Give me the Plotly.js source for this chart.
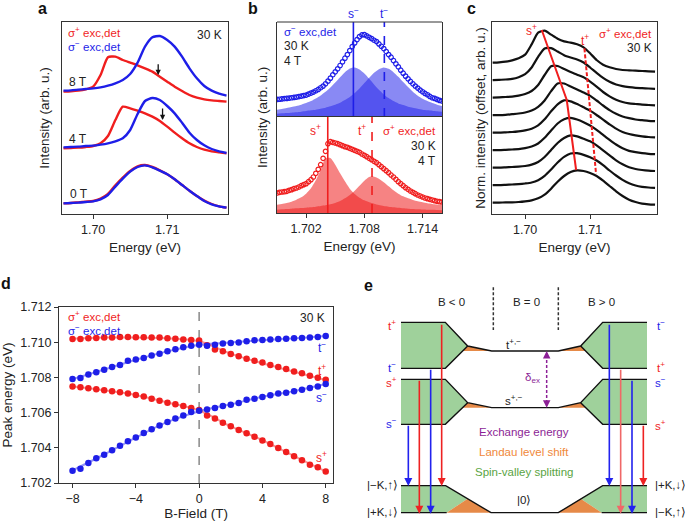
<!DOCTYPE html>
<html><head><meta charset="utf-8">
<script src="https://cdn.plot.ly/plotly-3.0.1.min.js"></script>
<style>html,body{margin:0;padding:0;background:#fff}</style>
</head><body><div id="chart" style="width:685px;height:526px"></div>
<script>
// ---------------- Panel a data ----------------
const energyA = [1.696,1.697,1.698,1.699,1.700,1.701,1.702,1.703,1.704,1.705,1.706,1.707,1.708,1.709,1.710,1.711,1.712,1.713,1.714,1.715,1.716,1.717,1.718];
const a0Tred  = [0.32,0.33,0.35,0.37,0.39,0.46,0.60,0.86,1.09,1.29,1.43,1.47,1.41,1.31,1.19,1.04,0.87,0.70,0.54,0.40,0.30,0.23,0.19];
const a0Tblue = [0.32,0.33,0.34,0.36,0.38,0.44,0.57,0.82,1.06,1.27,1.41,1.46,1.40,1.30,1.19,1.04,0.87,0.70,0.54,0.39,0.29,0.23,0.19];
const a4Tred  = [1.97,1.98,1.99,2.01,2.04,2.12,2.34,2.82,3.22,3.17,3.10,3.02,2.92,2.79,2.62,2.44,2.27,2.12,2.01,1.93,1.88,1.85,1.82];
const a4Tblue = [2.00,2.01,2.02,2.04,2.05,2.08,2.12,2.18,2.27,2.52,3.00,3.39,3.48,3.42,3.24,3.02,2.74,2.44,2.22,2.06,1.95,1.88,1.83];
const a8Tred  = [3.67,3.68,3.70,3.74,3.82,4.17,4.70,4.72,4.62,4.54,4.46,4.37,4.27,4.12,3.97,3.82,3.69,3.57,3.49,3.44,3.41,3.39,3.37];
const a8Tblue = [3.70,3.71,3.73,3.75,3.77,3.80,3.85,3.92,4.02,4.20,4.54,5.02,5.30,5.34,5.22,5.02,4.72,4.37,4.07,3.84,3.70,3.61,3.55];
const aArrowE = [1.70878, 1.70937];
const aArrowTail = [4.54, 3.21];
const aArrowHead = [4.17, 2.82];

// ---------------- Panel b data ----------------
const energyB = [1.699,1.69925,1.6995,1.69975,1.7,1.70025,1.7005,1.70075,1.701,1.70125,1.7015,1.70175,1.702,1.70225,1.7025,1.70275,1.703,1.70325,1.7035,1.70375,1.704,1.70425,1.7045,1.70475,1.705,1.70525,1.7055,1.70575,1.706,1.70625,1.7065,1.70675,1.707,1.70725,1.7075,1.70775,1.708,1.70825,1.7085,1.70875,1.709,1.70925,1.7095,1.70975,1.71,1.71025,1.7105,1.71075,1.711,1.71125,1.7115,1.71175,1.712,1.71225,1.7125,1.71275,1.713,1.71325,1.7135,1.71375,1.714,1.71425,1.7145,1.71475,1.715,1.71525,1.7155,1.71575,1.716];
const bMinusData = [0.53,0.535,0.545,0.555,0.56,0.57,0.58,0.59,0.60,0.615,0.63,0.645,0.66,0.69,0.72,0.75,0.79,0.83,0.88,0.93,1.00,1.08,1.17,1.27,1.36,1.45,1.55,1.66,1.77,1.88,2.00,2.12,2.23,2.33,2.42,2.47,2.48,2.44,2.40,2.36,2.31,2.27,2.20,2.13,2.06,1.97,1.88,1.80,1.70,1.60,1.51,1.41,1.32,1.23,1.15,1.07,1.00,0.93,0.87,0.81,0.76,0.71,0.67,0.62,0.58,0.56,0.53,0.50,0.48];
const bPlusData = [0.60,0.62,0.63,0.64,0.65,0.68,0.70,0.73,0.75,0.78,0.82,0.85,0.88,0.94,1.00,1.08,1.19,1.31,1.45,1.64,1.85,2.08,2.14,2.12,2.10,2.08,2.05,2.02,1.99,1.97,1.94,1.91,1.88,1.85,1.82,1.77,1.73,1.69,1.64,1.60,1.55,1.51,1.45,1.39,1.33,1.27,1.21,1.14,1.08,1.01,0.94,0.88,0.82,0.76,0.71,0.66,0.62,0.58,0.54,0.51,0.48,0.45,0.43,0.41,0.39,0.37,0.35,0.34,0.33];
const energyBfit = [1.699,1.6995,1.700,1.7005,1.701,1.7015,1.702,1.7025,1.703,1.7035,1.704,1.7045,1.705,1.7055,1.706,1.7065,1.707,1.7075,1.708,1.7085,1.709,1.7095,1.710,1.7105,1.711,1.7115,1.712,1.7125,1.713,1.7135,1.714,1.7145,1.715,1.7155,1.716];
const bSminus = [0.22,0.24,0.27,0.30,0.33,0.37,0.42,0.48,0.56,0.65,0.76,0.89,1.04,1.20,1.35,1.46,1.49,1.43,1.31,1.15,0.98,0.82,0.68,0.57,0.48,0.41,0.36,0.31,0.28,0.25,0.22,0.20,0.19,0.17,0.16];
const bTminus = [0.10,0.11,0.12,0.13,0.14,0.16,0.18,0.20,0.22,0.25,0.28,0.32,0.37,0.43,0.51,0.60,0.72,0.86,1.02,1.18,1.33,1.44,1.49,1.45,1.35,1.21,1.05,0.90,0.76,0.64,0.55,0.48,0.42,0.37,0.33];
const bSplus  = [0.25,0.27,0.30,0.34,0.40,0.47,0.58,0.74,0.98,1.29,1.64,1.65,1.45,1.19,0.95,0.73,0.57,0.46,0.38,0.32,0.28,0.24,0.21,0.19,0.17,0.155,0.14,0.13,0.12,0.11,0.105,0.10,0.095,0.09,0.085];
const bTplus  = [0.10,0.11,0.12,0.13,0.14,0.15,0.16,0.17,0.19,0.21,0.23,0.26,0.30,0.36,0.44,0.54,0.67,0.82,0.97,1.08,1.09,1.03,0.92,0.80,0.68,0.58,0.50,0.44,0.39,0.35,0.32,0.29,0.27,0.25,0.24];
const bPeakSminus = 1.70687, bPeakTminus = 1.71006, bPeakSplus = 1.70423, bPeakTplus = 1.70879;

// ---------------- Panel c data ----------------
const energyC = [1.695,1.696,1.697,1.698,1.699,1.700,1.701,1.702,1.703,1.704,1.705,1.706,1.707,1.708,1.709,1.710,1.711,1.712,1.713,1.714,1.715,1.716,1.717,1.718,1.719,1.720];
const fieldsC = ['8 T','6 T','4 T','2 T','0 T','−2 T','−4 T','−6 T','−8 T'];
const c8T  = [0,0.01,0.03,0.07,0.13,0.24,0.55,0.90,0.96,0.84,0.72,0.64,0.60,0.55,0.46,0.28,0.08,-0.06,-0.14,-0.19,-0.22,-0.23,-0.24,-0.25,-0.26,-0.27];
const c6T  = [0,0.01,0.02,0.04,0.09,0.18,0.38,0.70,0.95,0.96,0.86,0.75,0.68,0.62,0.53,0.38,0.22,0.07,-0.05,-0.13,-0.18,-0.21,-0.23,-0.24,-0.25,-0.26];
const c4T  = [0,0.01,0.02,0.03,0.06,0.11,0.20,0.38,0.68,0.94,0.95,0.86,0.77,0.69,0.61,0.48,0.33,0.17,0.04,-0.06,-0.13,-0.17,-0.19,-0.21,-0.22,-0.23];
const c2T  = [0,0,0.01,0.03,0.05,0.08,0.14,0.25,0.44,0.72,0.95,0.95,0.86,0.77,0.68,0.58,0.44,0.29,0.15,0.04,-0.04,-0.09,-0.13,-0.15,-0.17,-0.18];
const c0T  = [0,0,0.01,0.02,0.04,0.07,0.12,0.22,0.40,0.64,0.85,0.97,0.94,0.86,0.76,0.66,0.53,0.39,0.25,0.12,0.02,-0.04,-0.08,-0.11,-0.13,-0.14];
const cm2T = [0,0,0.01,0.02,0.03,0.06,0.11,0.20,0.37,0.59,0.80,0.93,0.97,0.92,0.84,0.74,0.61,0.46,0.31,0.17,0.06,-0.02,-0.06,-0.09,-0.11,-0.12];
const cm4T = [0,0,0.01,0.02,0.03,0.05,0.09,0.17,0.32,0.53,0.74,0.89,0.97,0.94,0.87,0.79,0.67,0.52,0.37,0.22,0.10,0.01,-0.04,-0.07,-0.09,-0.10];
const cm6T = [0,0,0.01,0.02,0.03,0.05,0.08,0.15,0.28,0.47,0.68,0.85,0.95,0.96,0.91,0.84,0.74,0.60,0.44,0.29,0.16,0.06,-0.01,-0.05,-0.07,-0.08];
const cm8T = [0,0,0.01,0.01,0.02,0.04,0.07,0.13,0.24,0.42,0.63,0.80,0.92,0.97,0.95,0.89,0.80,0.66,0.50,0.34,0.20,0.09,0.02,-0.03,-0.05,-0.06];
const cSplusE = [1.70256,1.70354,1.70451,1.70544,1.70641,1.70677,1.70713,1.70749,1.70785];
const cSplusY = [5.18,4.655,4.13,3.605,3.08,2.555,2.03,1.505,0.98];
const cTplusE = [1.70913,1.71092];
const cTplusY = [4.63,0.86];

// ---------------- Panel d data ----------------
const bField = [-8,-7.5,-7,-6.5,-6,-5.5,-5,-4.5,-4,-3.5,-3,-2.5,-2,-1.5,-1,-0.5,0,0.5,1,1.5,2,2.5,3,3.5,4,4.5,5,5.5,6,6.5,7,7.5,8];
const dTplus  = [1.71018,1.71018,1.71022,1.71024,1.71026,1.71026,1.71030,1.71030,1.71028,1.71028,1.71026,1.71026,1.71022,1.71020,1.71016,1.71012,1.71009,1.70982,1.70958,1.70948,1.70933,1.70920,1.70906,1.70895,1.70884,1.70870,1.70859,1.70848,1.70834,1.70823,1.70810,1.70798,1.70787];
const dTminus = [1.70791,1.70797,1.70816,1.70829,1.70844,1.70859,1.70870,1.70895,1.70901,1.70910,1.70925,1.70935,1.70948,1.70960,1.70971,1.70980,1.70986,1.70980,1.70986,1.70992,1.70995,1.70999,1.71005,1.71011,1.71013,1.71016,1.71018,1.71020,1.71022,1.71024,1.71026,1.71030,1.71035];
const dSplus  = [1.70749,1.70744,1.70738,1.70732,1.70727,1.70721,1.70715,1.70709,1.70700,1.70691,1.70679,1.70668,1.70656,1.70647,1.70637,1.70626,1.70615,1.70584,1.70566,1.70543,1.70522,1.70501,1.70482,1.70463,1.70442,1.70422,1.70399,1.70376,1.70352,1.70329,1.70304,1.70289,1.70266];
const dSminus = [1.70270,1.70281,1.70314,1.70340,1.70361,1.70386,1.70412,1.70437,1.70458,1.70484,1.70505,1.70526,1.70547,1.70567,1.70584,1.70603,1.70611,1.70617,1.70626,1.70637,1.70645,1.70655,1.70673,1.70679,1.70689,1.70698,1.70708,1.70713,1.70721,1.70730,1.70740,1.70749,1.70762];
const bFieldFit = [-8,-6,-4,-2,0,2,4,6,8];
const fitTplus  = [1.71020,1.71026,1.71027,1.71022,1.71005,1.70935,1.70880,1.70832,1.70785];
const fitTminus = [1.70790,1.70845,1.70900,1.70948,1.70985,1.70998,1.71012,1.71022,1.71035];
const fitSplus  = [1.70748,1.70727,1.70700,1.70657,1.70612,1.70522,1.70443,1.70353,1.70266];
const fitSminus = [1.70272,1.70362,1.70458,1.70547,1.70608,1.70647,1.70690,1.70722,1.70762];

// ---------------- Panel e schematic (diagram units) ----------------
const eGreen = [
  [[183,316,383,316,183],[142,142,213,280,280]],
  [[183,316,383,316,183],[313,313,383,448,448]],
  [[183,317,383,320,183],[632,632,671,713,713]],
  [[921,788,722,788,921],[142,142,213,280,280]],
  [[921,788,722,788,921],[313,313,383,448,448]],
  [[921,788,722,785,921],[632,632,671,713,713]]
];
const eOrange = [
  [[383,455,368],[213,228,228]], [[722,655,737],[213,228,228]],
  [[383,455,368],[383,398,398]], [[722,655,737],[383,398,398]],
  [[320,383,453],[713,671,713]], [[785,722,655],[713,671,713]]
];
const eLines = [
  [[183,316,383,455,655,722,788,921],[142,142,213,228,228,213,142,142]],
  [[183,316,383],[280,280,213]], [[722,788,921],[213,280,280]],
  [[183,316,383,455,655,722,788,921],[313,313,383,398,398,383,313,313]],
  [[183,316,383],[448,448,383]], [[722,788,921],[383,448,448]],
  [[183,317,453,655,788,921],[632,632,713,713,632,632]],
  [[183,320],[713,713]], [[785,921],[713,713]]
];
const eArrowX   = [205,238,272,305,808,842,876,910];
const eArrowTop = [448,313,280,145,145,280,313,448];
const eArrowBot = [633,716,716,633,633,716,716,633];
const eArrowCol = ['#2222ee','#ee2222','#2222ee','#ee2222','#2222ee','#f06868','#2222ee','#ee2222'];

// ---------------- Build ----------------
const RED = '#f01e1e', BLUE = '#1e1ee8', FONT = 'Liberation Sans, Arial, Helvetica, sans-serif';
const traces = [];
const line = (x, y, xa, ya, color, width, extra) => Object.assign({x, y, xaxis: xa, yaxis: ya, mode: 'lines', line: {color, width, shape: 'spline', smoothing: 0.6}, hoverinfo: 'skip', showlegend: false}, extra || {});

// panel a
[[a8Tred, a8Tblue], [a4Tred, a4Tblue], [a0Tred, a0Tblue]].forEach(p => {
  traces.push(line(energyA, p[0], 'x', 'y', RED, 2.4));
  traces.push(line(energyA, p[1], 'x', 'y', BLUE, 2.4));
});

// panel b upper
traces.push(Object.assign(line(energyBfit, bSminus, 'x2', 'y2', 'rgba(0,0,0,0)', 0), {fill: 'tozeroy', fillcolor: 'rgba(40,40,235,0.55)'}));
traces.push(Object.assign(line(energyBfit, bTminus, 'x2', 'y2', 'rgba(0,0,0,0)', 0), {fill: 'tozeroy', fillcolor: 'rgba(40,40,235,0.55)'}));
traces.push({x: energyB, y: bMinusData, xaxis: 'x2', yaxis: 'y2', mode: 'markers', marker: {symbol: 'circle-open', size: 4.5, color: BLUE, line: {width: 1.2, color: BLUE}}, hoverinfo: 'skip', showlegend: false});
traces.push({x: [bPeakSminus, bPeakSminus], y: [0, 2.86], xaxis: 'x2', yaxis: 'y2', mode: 'lines', line: {color: BLUE, width: 1.6}, showlegend: false, hoverinfo: 'skip'});
traces.push({x: [bPeakTminus, bPeakTminus], y: [0, 2.86], xaxis: 'x2', yaxis: 'y2', mode: 'lines', line: {color: BLUE, width: 1.6, dash: 'dash'}, showlegend: false, hoverinfo: 'skip'});
// panel b lower
traces.push(Object.assign(line(energyBfit, bSplus, 'x2', 'y3', 'rgba(0,0,0,0)', 0), {fill: 'tozeroy', fillcolor: 'rgba(238,30,30,0.55)'}));
traces.push(Object.assign(line(energyBfit, bTplus, 'x2', 'y3', 'rgba(0,0,0,0)', 0), {fill: 'tozeroy', fillcolor: 'rgba(238,30,30,0.55)'}));
traces.push({x: energyB, y: bPlusData, xaxis: 'x2', yaxis: 'y3', mode: 'markers', marker: {symbol: 'circle-open', size: 4.5, color: RED, line: {width: 1.2, color: RED}}, hoverinfo: 'skip', showlegend: false});
traces.push({x: [bPeakSplus, bPeakSplus], y: [0, 2.88], xaxis: 'x2', yaxis: 'y3', mode: 'lines', line: {color: RED, width: 1.6}, showlegend: false, hoverinfo: 'skip'});
traces.push({x: [bPeakTplus, bPeakTplus], y: [0, 2.88], xaxis: 'x2', yaxis: 'y3', mode: 'lines', line: {color: RED, width: 1.6, dash: 'dash'}, showlegend: false, hoverinfo: 'skip'});

// panel c
const cCurves = [c8T, c6T, c4T, c2T, c0T, cm2T, cm4T, cm6T, cm8T];
const cStep = 0.525;
cCurves.forEach((c, k) => {
  traces.push(line(energyC, c.map(v => v + (8 - k) * cStep), 'x3', 'y4', '#111', 2.2));
});
traces.push({x: cSplusE, y: cSplusY, xaxis: 'x3', yaxis: 'y4', mode: 'lines', line: {color: RED, width: 2}, showlegend: false, hoverinfo: 'skip'});
traces.push({x: cTplusE, y: cTplusY, xaxis: 'x3', yaxis: 'y4', mode: 'lines', line: {color: RED, width: 2, dash: '4px,2px'}, showlegend: false, hoverinfo: 'skip'});

// panel d
traces.push({x: [0, 0], y: [1.702, 1.712], xaxis: 'x4', yaxis: 'y5', mode: 'lines', line: {color: '#888', width: 1.5, dash: 'dash'}, showlegend: false, hoverinfo: 'skip'});
[[fitTplus, 'rgba(240,60,60,0.55)'], [fitSplus, 'rgba(240,60,60,0.55)'], [fitTminus, 'rgba(60,60,240,0.55)'], [fitSminus, 'rgba(60,60,240,0.55)']].forEach(f => {
  traces.push({x: bFieldFit, y: f[0], xaxis: 'x4', yaxis: 'y5', mode: 'lines', line: {color: f[1], width: 2, shape: 'spline'}, showlegend: false, hoverinfo: 'skip'});
});
[[dTplus, RED], [dSplus, RED], [dTminus, BLUE], [dSminus, BLUE]].forEach(s => {
  traces.push({x: bField, y: s[0], xaxis: 'x4', yaxis: 'y5', mode: 'markers', marker: {size: 6.5, color: s[1]}, showlegend: false, hoverinfo: 'skip'});
});

// panel e
eGreen.forEach(p => traces.push({x: p[0], y: p[1], xaxis: 'x5', yaxis: 'y6', mode: 'lines', fill: 'toself', fillcolor: '#9fd19b', line: {width: 0, color: 'rgba(0,0,0,0)'}, showlegend: false, hoverinfo: 'skip'}));
eOrange.forEach(p => traces.push({x: p[0], y: p[1], xaxis: 'x5', yaxis: 'y6', mode: 'lines', fill: 'toself', fillcolor: '#e68a48', line: {width: 0, color: 'rgba(0,0,0,0)'}, showlegend: false, hoverinfo: 'skip'}));
eLines.forEach(p => traces.push({x: p[0], y: p[1], xaxis: 'x5', yaxis: 'y6', mode: 'lines', line: {width: 1.4, color: '#111'}, showlegend: false, hoverinfo: 'skip'}));
traces.push({x: [460, 460], y: [37, 165], xaxis: 'x5', yaxis: 'y6', mode: 'lines', line: {width: 1.5, color: '#333', dash: '3px,2px'}, showlegend: false, hoverinfo: 'skip'});
traces.push({x: [655, 655], y: [37, 165], xaxis: 'x5', yaxis: 'y6', mode: 'lines', line: {width: 1.5, color: '#333', dash: '3px,2px'}, showlegend: false, hoverinfo: 'skip'});
traces.push({x: [620, 620], y: [240, 386], xaxis: 'x5', yaxis: 'y6', mode: 'lines', line: {width: 1.5, color: '#8c1f96', dash: '3px,2px'}, showlegend: false, hoverinfo: 'skip'});

// annotations
const P = x => x / 685, Q = y => 1 - y / 526;
const ann = (text, x, y, color, size, xanchor, extra) => Object.assign({text, x: P(x), y: Q(y), xref: 'paper', yref: 'paper', showarrow: false, xanchor: xanchor || 'center', yanchor: 'middle', font: {family: FONT, size: size || 12, color: color || '#222'}}, extra || {});
const annE = (text, x, y, color, size, xanchor) => ({text, x, y, xref: 'x5', yref: 'y6', showarrow: false, xanchor: xanchor || 'center', yanchor: 'middle', font: {family: FONT, size: size || 11.5, color: color || '#222'}});
const annotations = [
  // panel letters
  ann('<b>a</b>', 42.7, 9, '#111', 16), ann('<b>b</b>', 253, 9, '#111', 16), ann('<b>c</b>', 471.7, 9, '#111', 16),
  ann('<b>d</b>', 5.5, 283.5, '#111', 16), ann('<b>e</b>', 368.3, 285, '#111', 16),
  // a
  ann('σ<sup>+</sup> exc,det', 66, 32, RED, 11.5, 'left'), ann('σ<sup>−</sup> exc,det', 66, 45.5, BLUE, 11.5, 'left'),
  ann('30 K', 224, 35, '#222', 12, 'right'),
  ann('8 T', 66.5, 81.7, '#222', 12, 'left'), ann('4 T', 66.5, 139, '#222', 12, 'left'), ann('0 T', 67.5, 194, '#222', 12, 'left'),
  // b
  ann('σ<sup>−</sup> exc,det', 282, 30.7, BLUE, 11.5, 'left'), ann('30 K', 282, 45.7, '#222', 12, 'left'), ann('4 T', 282, 61, '#222', 12, 'left'),
  ann('s<sup>−</sup>', 353.3, 13, BLUE, 12), ann('t<sup>−</sup>', 384.3, 13, BLUE, 12),
  ann('s<sup>+</sup>', 323, 130, RED, 12, 'right'), ann('t<sup>+</sup>', 368, 130, RED, 12, 'right'),
  ann('σ<sup>+</sup> exc,det', 438, 130, RED, 11.5, 'right'), ann('30 K', 438, 145.7, '#222', 12, 'right'), ann('4 T', 438, 161, '#222', 12, 'right'),
  ann('Intensity (arb. u.)', 262, 118, '#222', 13.5, 'center', {textangle: -90}),
  // c
  ann('s<sup>+</sup>', 531.7, 30, RED, 12), ann('t<sup>+</sup>', 585, 40, RED, 12),
  ann('σ<sup>+</sup> exc,det', 654, 33.3, RED, 11.5, 'right'), ann('30 K', 654, 48.3, '#222', 12, 'right'),
  // d
  ann('σ<sup>+</sup> exc,det', 66, 316, RED, 11.5, 'left'), ann('σ<sup>−</sup> exc,det', 66, 330, BLUE, 11.5, 'left'),
  ann('30 K', 327, 318, '#222', 12, 'right'),
  ann('t<sup>−</sup>', 321.7, 346.7, BLUE, 12), ann('t<sup>+</sup>', 321.7, 370, RED, 12),
  ann('s<sup>−</sup>', 321.7, 396.7, BLUE, 12), ann('s<sup>+</sup>', 321.7, 456.7, RED, 12),
  // e
  annE('B < 0', 335, 80), annE('B = 0', 558, 80), annE('B > 0', 785, 80),
  annE('t<sup>+</sup>', 155, 150, RED), annE('t<sup>−</sup>', 155, 275, BLUE), annE('s<sup>+</sup>', 155, 320, RED), annE('s<sup>−</sup>', 155, 445, BLUE),
  annE('t<sup>−</sup>', 962, 150, BLUE), annE('t<sup>+</sup>', 962, 275, RED), annE('s<sup>−</sup>', 962, 320, BLUE), annE('s<sup>+</sup>', 962, 450, RED),
  annE('|−K,↑⟩', 180, 630, '#222', 11.5, 'right'), annE('|+K,↓⟩', 180, 712, '#222', 11.5, 'right'),
  annE('|+K,↓⟩', 940, 630, '#222', 11.5, 'left'), annE('|−K,↑⟩', 940, 712, '#222', 11.5, 'left'),
  annE('t<sup>+,−</sup>', 520, 208), annE('s<sup>+,−</sup>', 522, 376), annE('δ<sub>ex</sub>', 578, 310, '#8c1f96'),
  annE('Exchange energy', 553, 470, '#8c1f96'), annE('Landau level shift', 553, 530, '#f0883a'), annE('Spin-valley splitting', 553, 590, '#5aa443'),
  annE('|0⟩', 553, 675)
];
// arrows in a
aArrowE.forEach((e, i) => annotations.push({x: e, y: aArrowHead[i], ax: e, ay: aArrowTail[i], xref: 'x', yref: 'y', axref: 'x', ayref: 'y', showarrow: true, arrowhead: 2, arrowsize: 0.8, arrowwidth: 1.3, arrowcolor: '#111', text: ''}));
// arrows in e
eArrowX.forEach((x, i) => annotations.push({x, y: eArrowBot[i], ax: x, ay: eArrowTop[i], xref: 'x5', yref: 'y6', axref: 'x5', ayref: 'y6', showarrow: true, arrowhead: 2, arrowsize: 1, arrowwidth: 1.6, arrowcolor: eArrowCol[i], text: ''}));
annotations.push({x: 620, y: 228, ax: 620, ay: 250, xref: 'x5', yref: 'y6', axref: 'x5', ayref: 'y6', showarrow: true, arrowhead: 2, arrowsize: 1, arrowwidth: 1.5, arrowcolor: '#8c1f96', text: ''});
annotations.push({x: 620, y: 398, ax: 620, ay: 376, xref: 'x5', yref: 'y6', axref: 'x5', ayref: 'y6', showarrow: true, arrowhead: 2, arrowsize: 1, arrowwidth: 1.5, arrowcolor: '#8c1f96', text: ''});

const frame = {showline: true, mirror: true, linecolor: '#333', linewidth: 1, showgrid: false, zeroline: false};
const tick = {ticks: 'outside', ticklen: 4, tickwidth: 1, tickcolor: '#333', tickfont: {family: FONT, size: 12.5, color: '#222'}};
const noTick = {ticks: '', showticklabels: false};
const ttl = (text, standoff) => ({text, standoff, font: {family: FONT, size: 13.5, color: '#222'}});

const layout = {
  width: 685, height: 526, margin: {l: 0, r: 0, t: 0, b: 0}, paper_bgcolor: '#fff', plot_bgcolor: 'rgba(0,0,0,0)',
  font: {family: FONT}, showlegend: false,
  xaxis: Object.assign({domain: [P(62), P(228)], range: [1.6958, 1.7182], anchor: 'y', tickvals: [1.70, 1.71], ticktext: ['1.70', '1.71'], title: ttl('Energy (eV)', 6)}, frame, tick),
  yaxis: Object.assign({domain: [Q(214), Q(22)], range: [0, 5.76], anchor: 'x', title: ttl('Intensity (arb. u.)', 8)}, frame, noTick),
  xaxis2: Object.assign({domain: [P(277), P(442)], range: [1.699, 1.716], anchor: 'y3', tickvals: [1.702, 1.708, 1.714], ticktext: ['1.702', '1.708', '1.714'], title: ttl('Energy (eV)', 6)}, frame, tick),
  yaxis2: Object.assign({domain: [Q(117), Q(22)], range: [0, 2.86], anchor: 'x2'}, frame, noTick),
  yaxis3: Object.assign({domain: [Q(213), Q(117)], range: [0, 2.88], anchor: 'x2'}, frame, noTick),
  xaxis3: Object.assign({domain: [P(492), P(657)], range: [1.6949, 1.7203], anchor: 'y4', tickvals: [1.70, 1.71], ticktext: ['1.70', '1.71'], title: ttl('Energy (eV)', 6)}, frame, tick),
  yaxis4: Object.assign({domain: [Q(214), Q(22)], range: [-0.34, 5.42], anchor: 'x3', title: ttl('Norm. intensity (offset, arb. u.)', 2)}, frame, noTick),
  xaxis4: Object.assign({domain: [P(59), P(333)], range: [-8.855, 8.46], anchor: 'y5', tickvals: [-8, -4, 0, 4, 8], ticktext: ['−8', '−4', '0', '4', '8'], title: ttl('B-Field (T)', 3)}, frame, tick),
  yaxis5: Object.assign({domain: [Q(483), Q(307)], range: [1.702, 1.712], anchor: 'x4', tickvals: [1.702, 1.704, 1.706, 1.708, 1.710, 1.712], ticktext: ['1.702', '1.704', '1.706', '1.708', '1.710', '1.712'], title: ttl('Peak energy (eV)', 6)}, frame, tick),
  xaxis5: {domain: [P(340), 1], range: [0, 1035], anchor: 'y6', visible: false, fixedrange: true},
  yaxis6: {domain: [0, Q(275)], range: [753, 0], anchor: 'x5', visible: false, fixedrange: true},
  shapes: [{type: 'line', xref: 'paper', yref: 'paper', x0: P(277), x1: P(442), y0: Q(22), y1: Q(22), line: {color: '#333', width: 1}}],
  annotations
};
Plotly.newPlot('chart', traces, layout, {staticPlot: true, displayModeBar: false});
</script></body></html>
